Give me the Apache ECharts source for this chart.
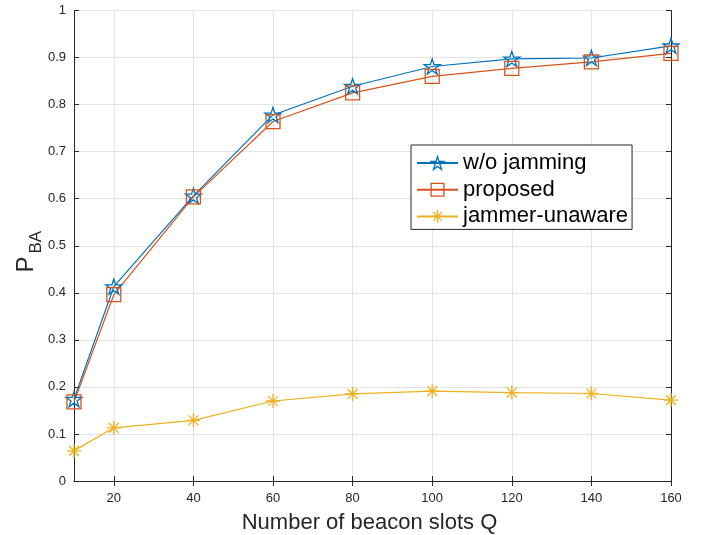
<!DOCTYPE html>
<html>
<head>
<meta charset="utf-8">
<script src="https://cdn.jsdelivr.net/npm/echarts@6/dist/echarts.min.js"></script>
<style>
  html, body { margin: 0; padding: 0; background: #fff; }
  #chart { width: 705px; height: 535px; }
</style>
</head>
<body>
<div id="chart"></div>
<script>
const slots = [10, 20, 40, 60, 80, 100, 120, 140, 160];
const noJamming = [0.174, 0.413, 0.606, 0.778, 0.839, 0.881, 0.897, 0.899, 0.925];
const proposed = [0.168, 0.396, 0.604, 0.764, 0.825, 0.860, 0.877, 0.891, 0.909];
const jammerUnaware = [0.064, 0.113, 0.129, 0.170, 0.185, 0.191, 0.188, 0.186, 0.172];
const xTicks = [20, 40, 60, 80, 100, 120, 140, 160];
const seriesNames = ['w/o jamming', 'proposed', 'jammer-unaware'];
const seriesColors = ['#0072BD', '#D95319', '#EDB120'];

const starPath = 'path://M0,-100L22.45,-30.9L95.1,-30.9L36.3,11.8L58.8,80.9L0,38.2L-58.8,80.9L-36.3,11.8L-95.1,-30.9L-22.45,-30.9Z';
const asteriskPath = 'path://M50,0L50,100M0,50L100,50M15,15L85,85M15,85L85,15';

const axisColor = '#262626';
const gridColor = '#e3e3e3';
const hollow = 'rgba(0,0,0,0)';

const chartE = echarts.init(document.getElementById('chart'));

function pairs(ys) {
  return slots.map((x, i) => [x, ys[i]]);
}

function lineSeries(idx, ys, symbol, size) {
  const color = seriesColors[idx];
  return {
    name: seriesNames[idx],
    type: 'line',
    data: pairs(ys),
    symbol: symbol,
    symbolSize: size,
    symbolKeepAspect: true,
    showAllSymbol: true,
    lineStyle: { color: color, width: 1.2 },
    itemStyle: { color: hollow, borderColor: color, borderWidth: 1.3 },
    emphasis: { disabled: true },
    animation: false
  };
}

chartE.setOption({
  backgroundColor: '#fff',
  textStyle: { fontFamily: 'Liberation Sans, Arial, sans-serif' },
  grid: { left: 74, right: 34, top: 10.5, bottom: 54, containLabel: false, outerBoundsMode: 'none' },
  legend: {
    orient: 'vertical',
    left: 411,
    top: 145,
    padding: [6, 4, 1, 5],
    itemGap: 2.7,
    itemWidth: 41,
    itemHeight: 16,
    borderColor: axisColor,
    borderWidth: 1,
    backgroundColor: '#fff',
    textStyle: { fontSize: 22, color: '#000', lineHeight: 24 },
    data: seriesNames.map((n, i) => ({
      name: n,
      itemStyle: { color: hollow, borderColor: seriesColors[i], borderWidth: 1.3 }
    }))
  },
  xAxis: [{
    type: 'value', min: 10, max: 160,
    name: 'Number of beacon slots Q', nameLocation: 'middle', nameGap: 31,
    nameMoveOverlap: false,
    nameTextStyle: { fontSize: 22, color: axisColor, padding: [0, 6, 0, 0] },
    axisLine: { lineStyle: { color: axisColor, width: 1 } },
    axisTick: { inside: true, length: 5, customValues: xTicks, lineStyle: { color: axisColor } },
    axisLabel: { customValues: xTicks, fontSize: 13, color: axisColor, margin: 11 },
    splitLine: { show: true, lineStyle: { color: gridColor, width: 1 } }
  }, {
    type: 'value', min: 10, max: 160, position: 'top',
    axisLine: { lineStyle: { color: axisColor, width: 1 } },
    axisTick: { inside: true, length: 5, customValues: xTicks, lineStyle: { color: axisColor } },
    axisLabel: { show: false },
    splitLine: { show: false }
  }],
  yAxis: [{
    type: 'value', min: 0, max: 1, interval: 0.1,
    name: '{p|P}{s|BA}', nameLocation: 'middle', nameGap: 29,
    nameMoveOverlap: false,
    nameTextStyle: {
      color: axisColor,
      padding: [0, 12, 0, 0],
      rich: {
        p: { fontSize: 24, color: axisColor },
        s: { fontSize: 17, color: axisColor, padding: [20, 0, 0, 3] }
      }
    },
    axisLine: { show: true, lineStyle: { color: axisColor, width: 1 } },
    axisTick: { show: true, inside: true, length: 5, lineStyle: { color: axisColor } },
    axisLabel: { fontSize: 13, color: axisColor, margin: 8, formatter: v => String(+v.toFixed(1)) },
    splitLine: { show: true, lineStyle: { color: gridColor, width: 1 } }
  }, {
    type: 'value', min: 0, max: 1, interval: 0.1, position: 'right',
    axisLine: { show: true, lineStyle: { color: axisColor, width: 1 } },
    axisTick: { show: true, inside: true, length: 5, lineStyle: { color: axisColor } },
    axisLabel: { show: false },
    splitLine: { show: false }
  }],
  series: [
    lineSeries(0, noJamming, starPath, 16),
    lineSeries(1, proposed, 'rect', 14),
    lineSeries(2, jammerUnaware, asteriskPath, 14)
  ]
});
</script>
</body>
</html>
